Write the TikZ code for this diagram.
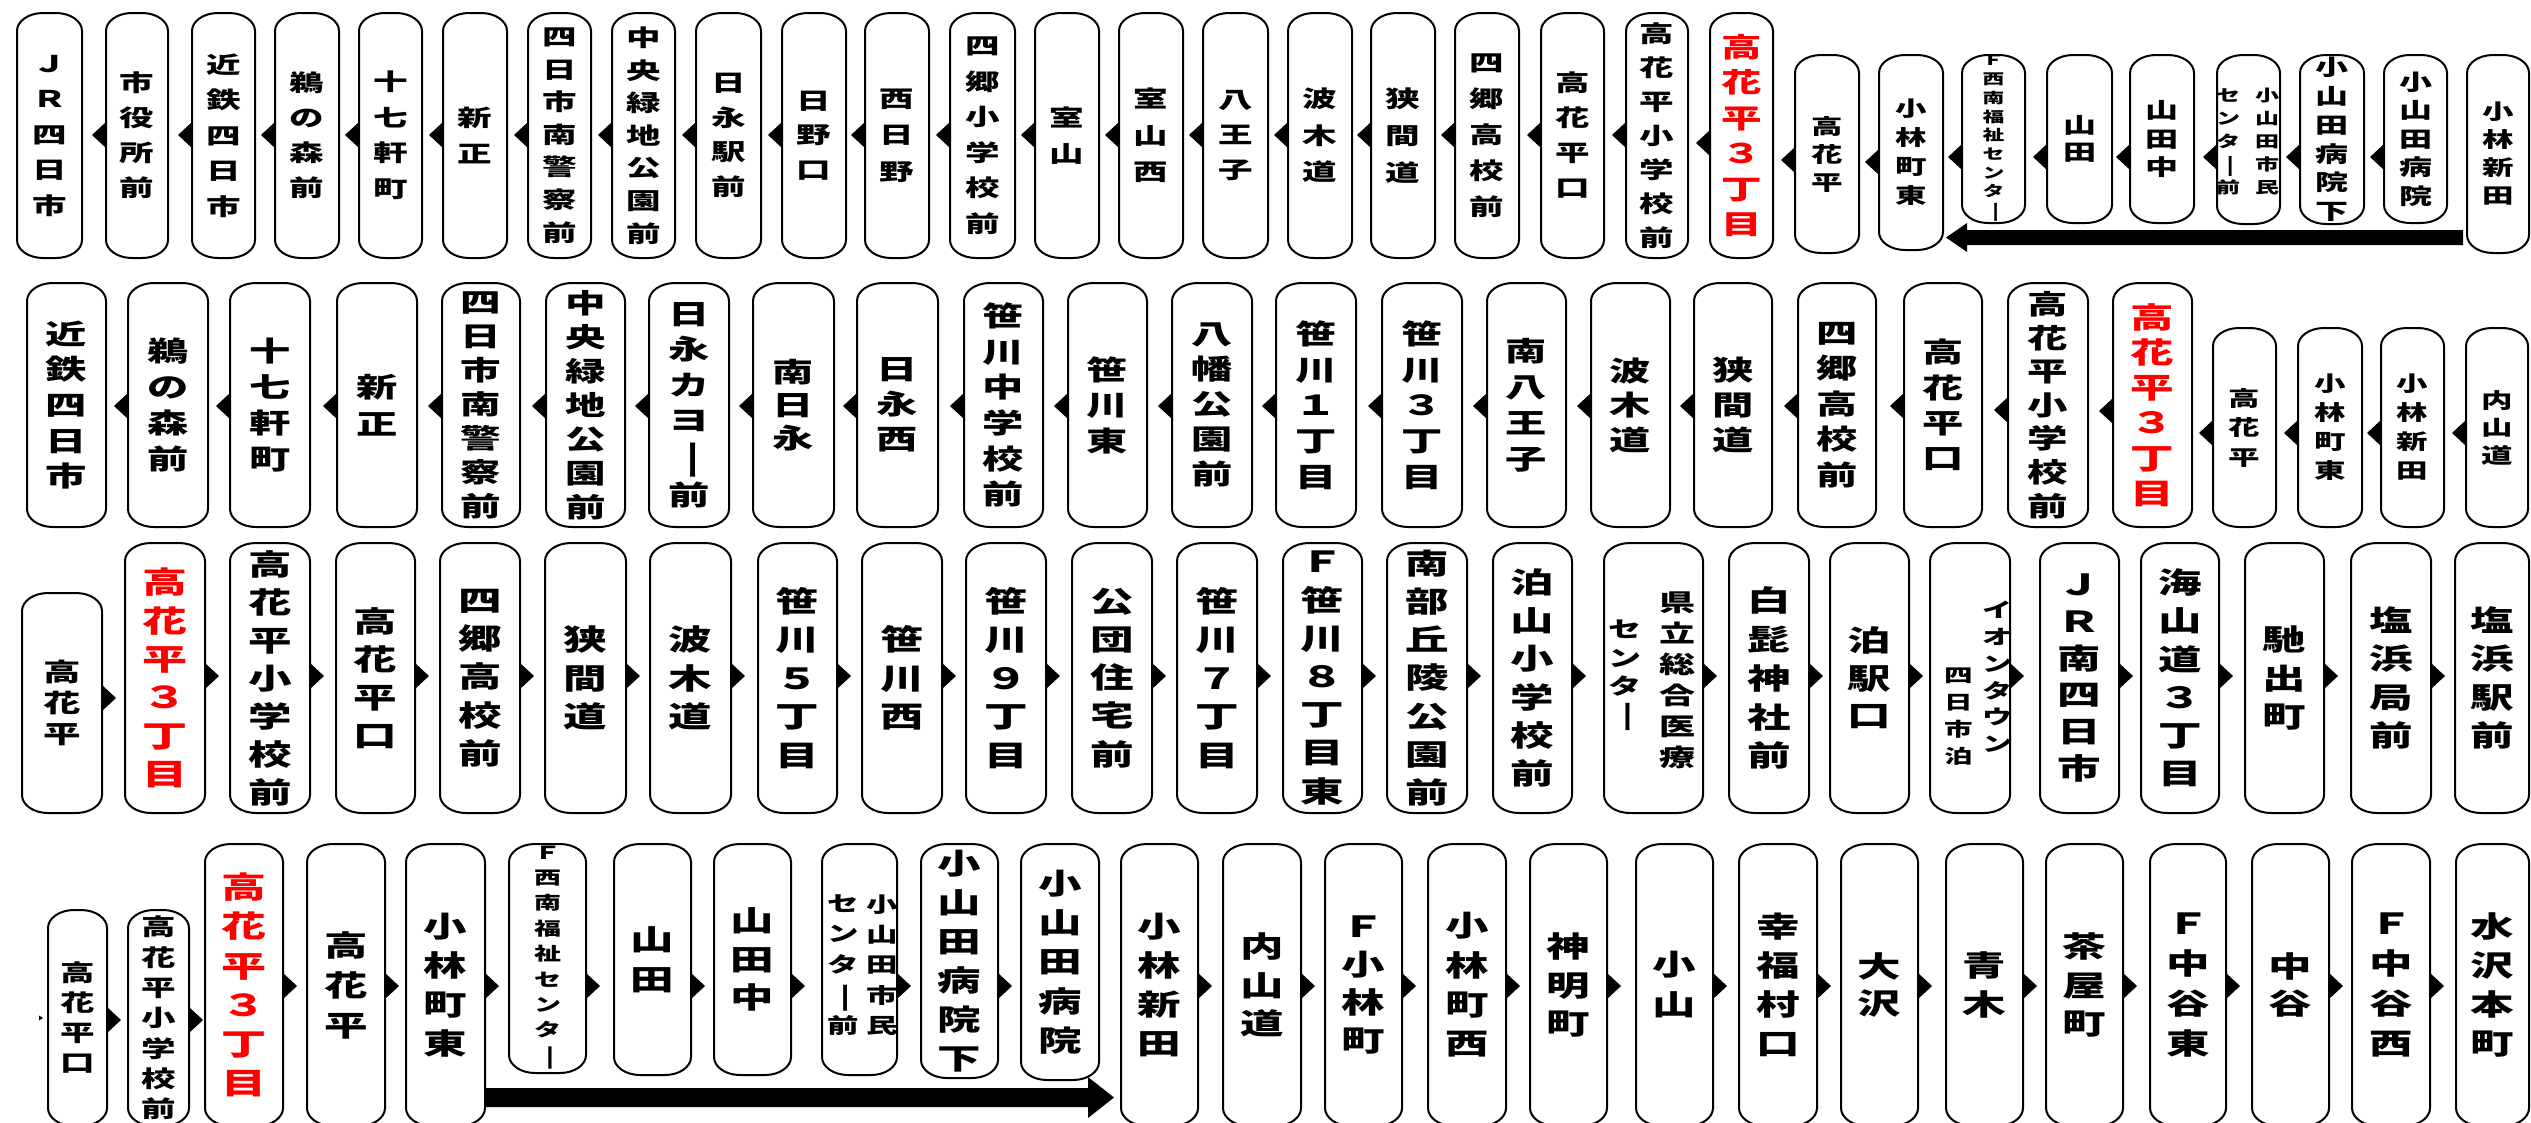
\documentclass[tikz,border=0pt]{standalone}
\usepackage{fontspec}
\usepackage{graphicx}
\usetikzlibrary{calc}
\newfontfamily\jp[FakeStretch=1.5]{Noto Sans CJK JP}
\newcommand\chou{\rotatebox[origin=c]{-90}{ー}}
\def\myrx{26pt}\def\myry{18pt}
\tikzset{
  edge/.style={draw=black, line width=2pt},
  boxn/.style={rectangle, inner sep=0pt, outer sep=0pt},
  lbl/.style={inner sep=0pt, align=center},
}
\newcommand\outl[1]{%
  \draw[edge] ([xshift=\myrx]#1.north west) -- ([xshift=-\myrx]#1.north east)
    arc[start angle=90,end angle=0,x radius=\myrx,y radius=\myry]
    -- ([yshift=\myry]#1.south east)
    arc[start angle=0,end angle=-90,x radius=\myrx,y radius=\myry]
    -- ([xshift=\myrx]#1.south west)
    arc[start angle=270,end angle=180,x radius=\myrx,y radius=\myry]
    -- ([yshift=-\myry]#1.north west)
    arc[start angle=180,end angle=90,x radius=\myrx,y radius=\myry] -- cycle;}
\newcommand\St[9][black]{%
  \node[boxn, minimum width={#4pt-#3pt}, minimum height={#6pt-#5pt}] (#2) at ({(#3+#4)/2},{-(#5+#6)/2}) {};
  \outl{#2}%
  \node[lbl, text=#1, font={\jp\bfseries\fontsize{#7pt}{#8pt}\selectfont}] (#2t) at (#2.center) {#9};%
}
\newcommand\arrL[3]{\fill let \p1=(#1.west) in (\x1,-#3pt+13pt) -- (\x1-14pt,-#3pt) -- (\x1,-#3pt-13pt) -- cycle;}
\newcommand\arrR[3]{\fill let \p1=(#1.east) in (\x1,-#3pt+13pt) -- (\x1+14pt,-#3pt) -- (\x1,-#3pt-13pt) -- cycle;}
\newcommand\col[5]{\node[lbl, font={\jp\bfseries\fontsize{#3pt}{#4pt}\selectfont}] (#1) at #2 {#5};}
\begin{document}
\begin{tikzpicture}[x=1pt,y=1pt]
\fill[white] (0,0) rectangle (2531,-1122);
\useasboundingbox (0,0) rectangle (2531,-1122);
% ---------------- Row 1 ----------------
\St{r1b1}{17}{82}{13}{258}{23}{35.5}{Ｊ\\Ｒ\\四\\日\\市}
\St{r1b2}{106}{168}{13}{258}{23}{35}{市\\役\\所\\前}
\St{r1b3}{192}{255}{13}{258}{23}{35.5}{近\\鉄\\四\\日\\市}
\St{r1b4}{275}{339}{13}{258}{23}{35}{鵜\\の\\森\\前}
\St{r1b5}{359}{422}{13}{258}{23}{35.5}{十\\七\\軒\\町}
\St{r1b6}{443}{507}{13}{258}{23}{36.5}{新\\正}
\St{r1b7}{528}{591}{13}{258}{23}{32.6}{四\\日\\市\\南\\警\\察\\前}
\St{r1b8}{612}{675}{13}{258}{23}{32.6}{中\\央\\緑\\地\\公\\園\\前}
\St{r1b9}{696}{761}{13}{258}{23}{34.5}{日\\永\\駅\\前}
\St{r1b10}{782}{846}{13}{258}{23}{34.5}{日\\野\\口}
\St{r1b11}{865}{929}{13}{258}{23}{36.5}{西\\日\\野}
\St{r1b12}{950}{1015}{13}{258}{23}{35.5}{四\\郷\\小\\学\\校\\前}
\St{r1b13}{1035}{1099}{13}{258}{23}{36}{室\\山}
\St{r1b14}{1119}{1183}{13}{258}{23}{36.5}{室\\山\\西}
\St{r1b15}{1203}{1268}{13}{258}{23}{35}{八\\王\\子}
\St{r1b16}{1288}{1352}{13}{258}{23}{36.5}{波\\木\\道}
\St{r1b17}{1371}{1435}{13}{258}{23}{37}{狭\\間\\道}
\St{r1b18}{1455}{1519}{13}{258}{23}{36}{四\\郷\\高\\校\\前}
\St{r1b19}{1541}{1604}{13}{258}{23}{35}{高\\花\\平\\口}
\St{r1b20}{1626}{1688}{13}{258}{23}{34}{高\\花\\平\\小\\学\\校\\前}
\St[red]{r1b21}{1710}{1773}{13}{258}{27}{35.5}{高\\花\\平\\３\\丁\\目}
\St{r1b22}{1795}{1859}{55}{253}{21}{28}{高\\花\\平}
\St{r1b23}{1879}{1943}{55}{250}{21}{29}{小\\林\\町\\東}
\St{r1b24}{1962}{2025}{55}{223}{14.5}{18.7}{Ｆ\\西\\南\\福\\祉\\セ\\ン\\タ\\\chou}
\St{r1b25}{2047}{2112}{55}{223}{22}{27.5}{山\\田}
\St{r1b26}{2130}{2194}{55}{223}{22}{28.5}{山\\田\\中}
\St{r1b27}{2217}{2280}{55}{224}{15}{23}{}
\col{r1b27a}{(2267,-142)}{16}{23}{小\\山\\田\\市\\民}
\col{r1b27b}{(2228,-142)}{16}{23}{セ\\ン\\タ\\\chou\\前}
\St{r1b28}{2300}{2364}{55}{224}{22}{28.7}{小\\山\\田\\病\\院\\下}
\St{r1b29}{2384}{2447}{55}{223}{22}{28.5}{小\\山\\田\\病\\院}
\St{r1b30}{2467}{2529}{55}{253}{21}{28}{小\\林\\新\\田}
\foreach \i in {2,...,20} {\pgfmathtruncatemacro\j{\i-1}\arrL{r1b\i}{r1b\j}{135}}
\arrL{r1b21}{r1b20}{143}
\arrL{r1b22}{r1b21}{160}
\arrL{r1b23}{r1b22}{162}
\foreach \i in {24,...,29} {\pgfmathtruncatemacro\j{\i-1}\arrL{r1b\i}{r1b\j}{157}}
\fill let \p1=(r1b30.west), \p2=(r1b23.east) in
  (\x1-4pt,-230pt) -- (\x2+24pt,-230pt) -- (\x2+24pt,-223pt) -- (\x2+3pt,-237.5pt)
  -- (\x2+24pt,-252pt) -- (\x2+24pt,-245pt) -- (\x1-4pt,-245pt) -- cycle;
% ---------------- Row 2 ----------------
\St{r2b1}{27}{106}{283}{527}{27.5}{35.6}{近\\鉄\\四\\日\\市}
\St{r2b2}{128}{208}{283}{527}{27.5}{36}{鵜\\の\\森\\前}
\St{r2b3}{230}{310}{283}{527}{27.5}{36}{十\\七\\軒\\町}
\St{r2b4}{337}{417}{283}{527}{27.5}{36.7}{新\\正}
\St{r2b5}{442}{520}{283}{527}{27}{34}{四\\日\\市\\南\\警\\察\\前}
\St{r2b6}{546}{625}{283}{527}{27}{34}{中\\央\\緑\\地\\公\\園\\前}
\St{r2b7}{649}{729}{283}{527}{27.5}{35.5}{日\\永\\カ\\ヨ\\\chou\\前}
\St{r2b8}{753}{834}{283}{527}{27.5}{33}{南\\日\\永}
\St{r2b9}{857}{938}{283}{527}{27.5}{35}{日\\永\\西}
\St{r2b10}{964}{1043}{283}{527}{27.5}{35.7}{笹\\川\\中\\学\\校\\前}
\St{r2b11}{1068}{1147}{283}{527}{27.5}{35.5}{笹\\川\\東}
\St{r2b12}{1172}{1252}{283}{527}{27.5}{35}{八\\幡\\公\\園\\前}
\St{r2b13}{1276}{1356}{283}{527}{27.5}{35.7}{笹\\川\\１\\丁\\目}
\St{r2b14}{1382}{1462}{283}{527}{27.5}{35.7}{笹\\川\\３\\丁\\目}
\St{r2b15}{1487}{1566}{283}{527}{27.5}{36}{南\\八\\王\\子}
\St{r2b16}{1591}{1670}{283}{527}{27.5}{34.5}{波\\木\\道}
\St{r2b17}{1694}{1772}{283}{527}{27.5}{35.3}{狭\\間\\道}
\St{r2b18}{1798}{1876}{283}{527}{27.5}{35.4}{四\\郷\\高\\校\\前}
\St{r2b19}{1904}{1982}{283}{527}{27.5}{35.2}{高\\花\\平\\口}
\St{r2b20}{2008}{2088}{283}{527}{27}{33.6}{高\\花\\平\\小\\学\\校\\前}
\St[red]{r2b21}{2113}{2192}{283}{527}{29}{35.2}{高\\花\\平\\３\\丁\\目}
\St{r2b22}{2213}{2276}{328}{527}{21}{29.5}{高\\花\\平}
\St{r2b23}{2298}{2362}{328}{527}{21}{29}{小\\林\\町\\東}
\St{r2b24}{2381}{2444}{328}{527}{21}{29}{小\\林\\新\\田}
\St{r2b25}{2466}{2528}{328}{527}{21}{27.5}{内\\山\\道}
\foreach \i in {2,...,19} {\pgfmathtruncatemacro\j{\i-1}\arrL{r2b\i}{r2b\j}{406}}
\arrL{r2b20}{r2b19}{410}
\arrL{r2b21}{r2b20}{411}
\foreach \i in {22,...,25} {\pgfmathtruncatemacro\j{\i-1}\arrL{r2b\i}{r2b\j}{433}}
% ---------------- Row 3 ----------------
\St{r3b1}{22}{102}{593}{813}{25}{31}{高\\花\\平}
\St[red]{r3b2}{125}{205}{543}{813}{30}{38.3}{高\\花\\平\\３\\丁\\目}
\St{r3b3}{230}{310}{543}{813}{29}{38}{高\\花\\平\\小\\学\\校\\前}
\St{r3b4}{336}{415}{543}{813}{29}{38.2}{高\\花\\平\\口}
\St{r3b5}{440}{520}{543}{813}{29}{38.4}{四\\郷\\高\\校\\前}
\St{r3b6}{545}{626}{543}{813}{29}{38.6}{狭\\間\\道}
\St{r3b7}{650}{731}{543}{813}{29}{38.6}{波\\木\\道}
\St{r3b8}{758}{837}{543}{813}{29}{38.4}{笹\\川\\５\\丁\\目}
\St{r3b9}{862}{942}{543}{813}{29}{38.6}{笹\\川\\西}
\St{r3b10}{966}{1046}{543}{813}{29}{38.6}{笹\\川\\９\\丁\\目}
\St{r3b11}{1072}{1152}{543}{813}{29}{38.2}{公\\団\\住\\宅\\前}
\St{r3b12}{1177}{1257}{543}{813}{29}{38.4}{笹\\川\\７\\丁\\目}
\St{r3b13}{1283}{1362}{543}{813}{29}{38.2}{Ｆ\\笹\\川\\８\\丁\\目\\東}
\St{r3b14}{1387}{1467}{543}{813}{29}{38.2}{南\\部\\丘\\陵\\公\\園\\前}
\St{r3b15}{1493}{1572}{543}{813}{29}{38.2}{泊\\山\\小\\学\\校\\前}
\St{r3b16}{1604}{1703}{543}{813}{24}{31}{}
\col{r3b16a}{(1677,-680)}{24}{31}{県\\立\\総\\合\\医\\療}
\col{r3b16b}{(1625,-677)}{22}{28.3}{セ\\ン\\タ\\\chou}
\St{r3b17}{1729}{1809}{543}{813}{29}{38.9}{白\\髭\\神\\社\\前}
\St{r3b18}{1830}{1909}{543}{813}{29}{37.5}{泊\\駅\\口}
\St{r3b19}{1930}{2010}{543}{813}{20}{27}{}
\col{r3b19a}{(1997,-677)}{20}{26.8}{イ\\オ\\ン\\タ\\ウ\\ン}
\col{r3b19b}{(1959,-717)}{19}{27}{四\\日\\市\\泊}
\St{r3b20}{2040}{2119}{543}{813}{29}{36.8}{Ｊ\\Ｒ\\南\\四\\日\\市}
\St{r3b21}{2141}{2219}{543}{813}{29}{38.2}{海\\山\\道\\３\\丁\\目}
\St{r3b22}{2245}{2324}{543}{813}{29}{38.7}{馳\\出\\町}
\St{r3b23}{2351}{2431}{543}{813}{29}{38.3}{塩\\浜\\局\\前}
\St{r3b24}{2455}{2529}{543}{813}{29}{38.3}{塩\\浜\\駅\\前}
\arrR{r3b1}{r3b2}{698}
\foreach \i in {2,...,23} {\pgfmathtruncatemacro\j{\i+1}\arrR{r3b\i}{r3b\j}{676}}
% ---------------- Row 4 ----------------
\St{r4b1}{48}{107}{910}{1126}{23}{30}{高\\花\\平\\口}
\St{r4b2}{128}{189}{910}{1126}{23}{30.3}{高\\花\\平\\小\\学\\校\\前}
\St[red]{r4b3}{205}{283}{844}{1126}{30}{39.3}{高\\花\\平\\３\\丁\\目}
\St{r4b4}{307}{385}{844}{1126}{29}{40}{高\\花\\平}
\St{r4b5}{406}{485}{844}{1126}{29}{39.2}{小\\林\\町\\東}
\St{r4b6}{509}{586}{844}{1073}{18}{25.4}{Ｆ\\西\\南\\福\\祉\\セ\\ン\\タ\\\chou}
\St{r4b7}{614}{691}{844}{1075}{29}{40}{山\\田}
\St{r4b8}{714}{791}{844}{1075}{29}{38.3}{山\\田\\中}
\St{r4b9}{822}{897}{844}{1075}{21}{30}{}
\col{r4b9a}{(882,-965)}{21}{30.3}{小\\山\\田\\市\\民}
\col{r4b9b}{(843,-965)}{21}{30.7}{セ\\ン\\タ\\\chou\\前}
\St{r4b10}{921}{998}{844}{1078}{29}{39}{小\\山\\田\\病\\院\\下}
\St{r4b11}{1021}{1099}{844}{1080}{29}{39.2}{小\\山\\田\\病\\院}
\St{r4b12}{1121}{1198}{844}{1126}{29}{38.7}{小\\林\\新\\田}
\St{r4b13}{1223}{1301}{844}{1126}{29}{38.7}{内\\山\\道}
\St{r4b14}{1325}{1402}{844}{1126}{29}{38.3}{Ｆ\\小\\林\\町}
\St{r4b15}{1428}{1506}{844}{1126}{29}{39.4}{小\\林\\町\\西}
\St{r4b16}{1530}{1607}{844}{1126}{29}{38.7}{神\\明\\町}
\St{r4b17}{1636}{1713}{844}{1126}{29}{40}{小\\山}
\St{r4b18}{1739}{1817}{844}{1126}{29}{39.2}{幸\\福\\村\\口}
\St{r4b19}{1841}{1918}{844}{1126}{29}{37.7}{大\\沢}
\St{r4b20}{1946}{2023}{844}{1126}{29}{38.3}{青\\木}
\St{r4b21}{2046}{2123}{844}{1126}{29}{38.8}{茶\\屋\\町}
\St{r4b22}{2150}{2226}{844}{1126}{29}{39.8}{Ｆ\\中\\谷\\東}
\St{r4b23}{2252}{2329}{844}{1126}{29}{37.7}{中\\谷}
\St{r4b24}{2352}{2430}{844}{1126}{29}{39.8}{Ｆ\\中\\谷\\西}
\St{r4b25}{2456}{2529}{844}{1126}{29}{39.2}{水\\沢\\本\\町}
\arrR{r4b1}{r4b2}{1020}
\arrR{r4b2}{r4b3}{1020}
\foreach \i in {3,...,10} {\pgfmathtruncatemacro\j{\i+1}\arrR{r4b\i}{r4b\j}{986}}
\foreach \i in {12,...,24} {\pgfmathtruncatemacro\j{\i+1}\arrR{r4b\i}{r4b\j}{986}}
\fill let \p1=(r4b5.east), \p2=(r4b12.west) in
  (\x1,-1088pt) -- (\x2-33pt,-1088pt) -- (\x2-33pt,-1077pt) -- (\x2-7pt,-1097.5pt)
  -- (\x2-33pt,-1118pt) -- (\x2-33pt,-1107pt) -- (\x1,-1107pt) -- cycle;
\coordinate (stub) at (39,-1018);
\fill (stub) ++(0,2.5) -- ++(4,-2.5) -- ++(-4,-2.5) -- cycle;
\end{tikzpicture}
\end{document}
